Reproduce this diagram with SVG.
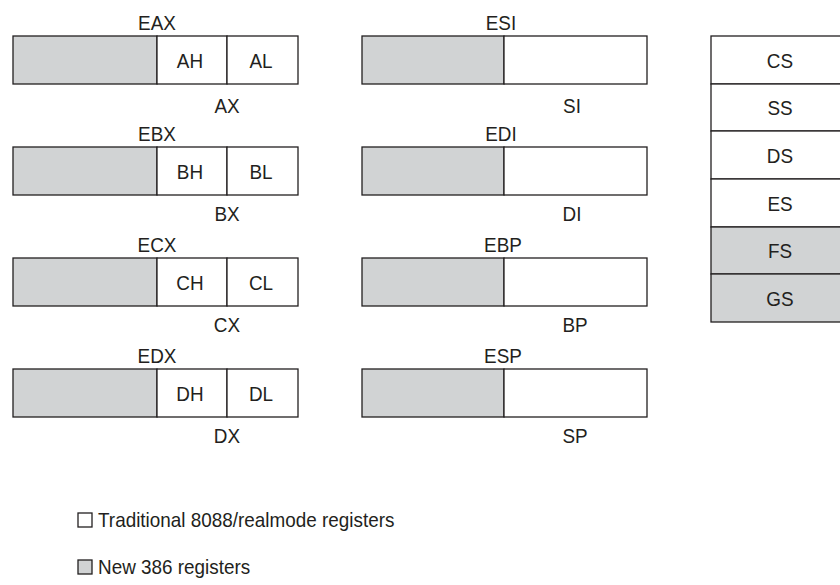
<svg xmlns="http://www.w3.org/2000/svg" width="840" height="585" viewBox="0 0 840 585">
<style>
rect{stroke:#231f20;stroke-width:1.3}
.g{fill:#d1d3d4}
.w{fill:#ffffff}
text{font-family:"Liberation Sans",Arial,sans-serif;font-size:21px;fill:#231f20;text-anchor:middle}
.l{text-anchor:start}
</style>
<rect x="0" y="0" width="840" height="585" fill="#ffffff" style="stroke:none"/>
<g id="eax">
<rect class="g" x="13" y="36" width="144" height="48"/>
<rect class="w" x="157" y="36" width="70" height="48"/>
<rect class="w" x="227" y="36" width="71" height="48"/>
<text transform="translate(157 30) scale(0.9 1)">EAX</text>
<text transform="translate(190 67.5) scale(0.9 1)">AH</text>
<text transform="translate(261 67.5) scale(0.9 1)">AL</text>
<text transform="translate(227 113) scale(0.9 1)">AX</text>
</g>
<g id="ebx">
<rect class="g" x="13" y="147" width="144" height="48"/>
<rect class="w" x="157" y="147" width="70" height="48"/>
<rect class="w" x="227" y="147" width="71" height="48"/>
<text transform="translate(157 141) scale(0.9 1)">EBX</text>
<text transform="translate(190 178.5) scale(0.9 1)">BH</text>
<text transform="translate(261 178.5) scale(0.9 1)">BL</text>
<text transform="translate(227 221) scale(0.9 1)">BX</text>
</g>
<g id="ecx">
<rect class="g" x="13" y="258" width="144" height="48"/>
<rect class="w" x="157" y="258" width="70" height="48"/>
<rect class="w" x="227" y="258" width="71" height="48"/>
<text transform="translate(157 252) scale(0.9 1)">ECX</text>
<text transform="translate(190 289.5) scale(0.9 1)">CH</text>
<text transform="translate(261 289.5) scale(0.9 1)">CL</text>
<text transform="translate(227 332) scale(0.9 1)">CX</text>
</g>
<g id="edx">
<rect class="g" x="13" y="369" width="144" height="48"/>
<rect class="w" x="157" y="369" width="70" height="48"/>
<rect class="w" x="227" y="369" width="71" height="48"/>
<text transform="translate(157 363) scale(0.9 1)">EDX</text>
<text transform="translate(190 400.5) scale(0.9 1)">DH</text>
<text transform="translate(261 400.5) scale(0.9 1)">DL</text>
<text transform="translate(227 443) scale(0.9 1)">DX</text>
</g>
<g id="esi">
<rect class="g" x="362" y="36" width="142" height="48"/>
<rect class="w" x="504" y="36" width="143" height="48"/>
<text transform="translate(501 30) scale(0.9 1)">ESI</text>
<text transform="translate(572 113) scale(0.9 1)">SI</text>
</g>
<g id="edi">
<rect class="g" x="362" y="147" width="142" height="48"/>
<rect class="w" x="504" y="147" width="143" height="48"/>
<text transform="translate(501 141) scale(0.9 1)">EDI</text>
<text transform="translate(572 221) scale(0.9 1)">DI</text>
</g>
<g id="ebp">
<rect class="g" x="362" y="258" width="142" height="48"/>
<rect class="w" x="504" y="258" width="143" height="48"/>
<text transform="translate(503 252) scale(0.9 1)">EBP</text>
<text transform="translate(575 332) scale(0.9 1)">BP</text>
</g>
<g id="esp">
<rect class="g" x="362" y="369" width="142" height="48"/>
<rect class="w" x="504" y="369" width="143" height="48"/>
<text transform="translate(503 363) scale(0.9 1)">ESP</text>
<text transform="translate(575 443) scale(0.9 1)">SP</text>
</g>
<g id="segments">
<rect class="w" x="711" y="36" width="140" height="48"/><text transform="translate(780 67.5) scale(0.9 1)">CS</text>
<rect class="w" x="711" y="84" width="140" height="47"/><text transform="translate(780 115) scale(0.9 1)">SS</text>
<rect class="w" x="711" y="131" width="140" height="48"/><text transform="translate(780 162.5) scale(0.9 1)">DS</text>
<rect class="w" x="711" y="179" width="140" height="48"/><text transform="translate(780 210.5) scale(0.9 1)">ES</text>
<rect class="g" x="711" y="227" width="140" height="47"/><text transform="translate(780 258) scale(0.9 1)">FS</text>
<rect class="g" x="711" y="274" width="140" height="48"/><text transform="translate(780 305.5) scale(0.9 1)">GS</text>
</g>
<g id="legend">
<rect class="w" x="78" y="513" width="14" height="14"/>
<text class="l" transform="translate(98 527) scale(0.9 1)">Traditional 8088/realmode registers</text>
<rect class="g" x="78" y="560" width="14" height="14"/>
<text class="l" transform="translate(98 574) scale(0.9 1)">New 386 registers</text>
</g>
<g id="connectors"></g>
</svg>
